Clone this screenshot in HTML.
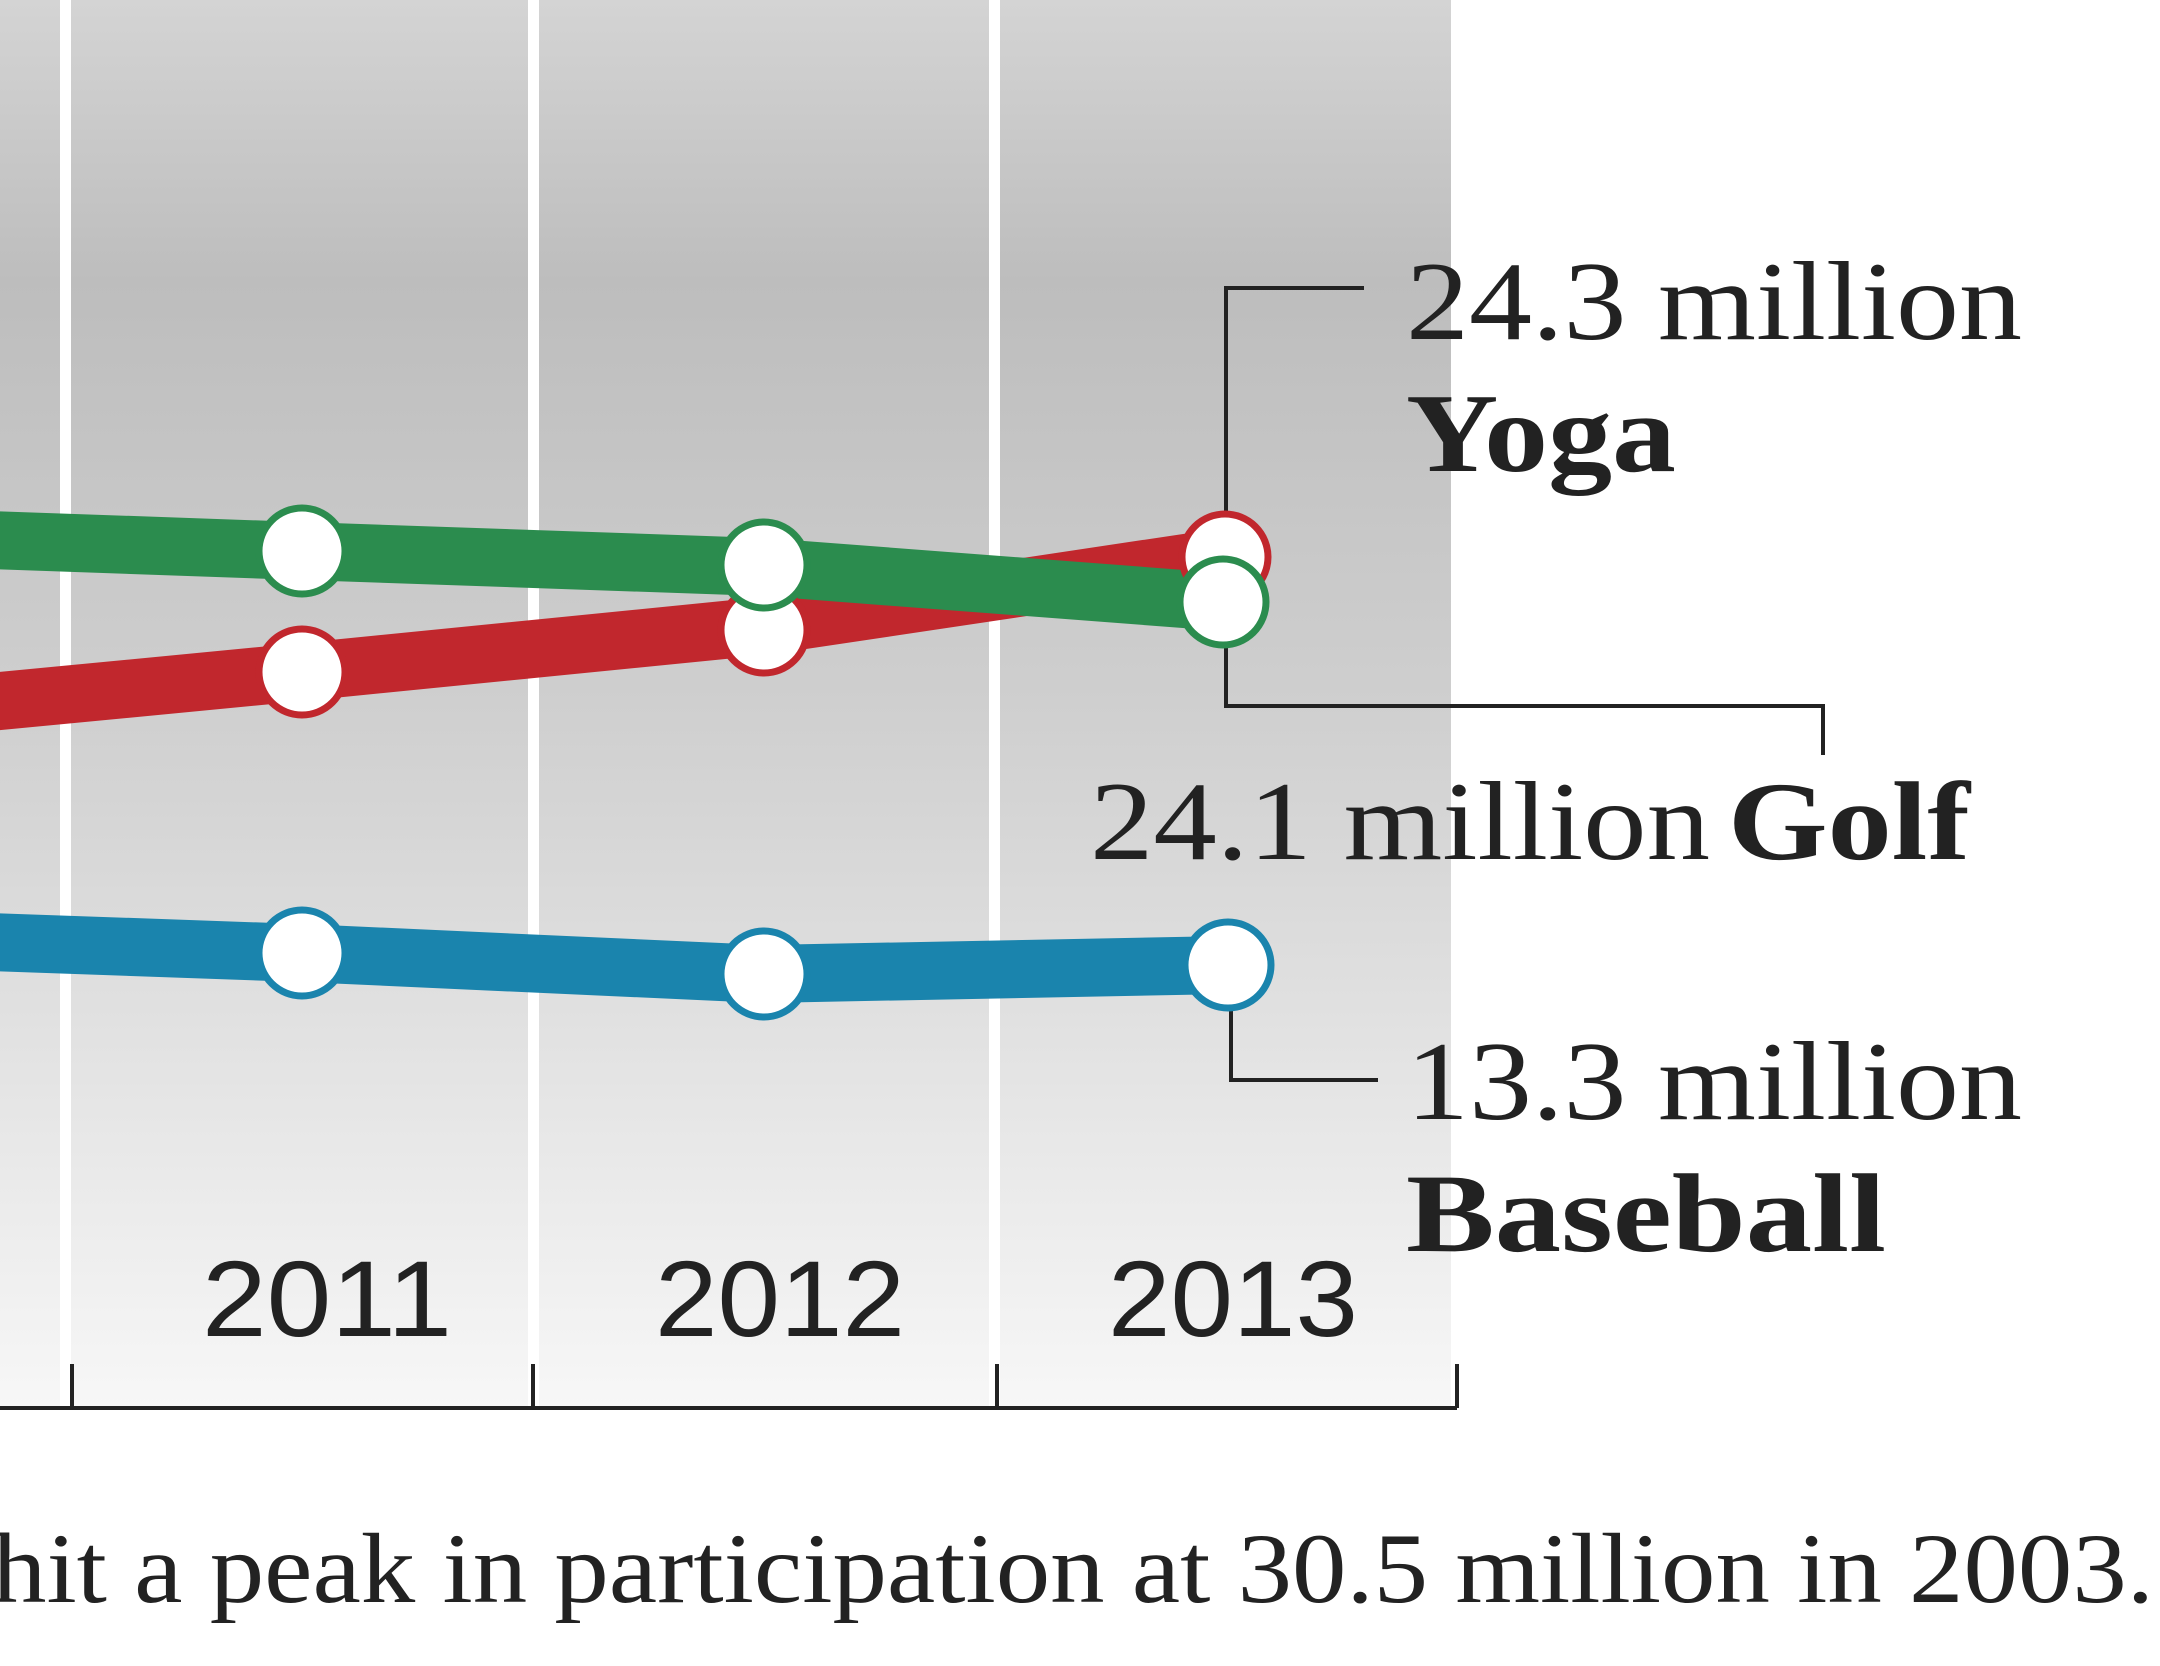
<!DOCTYPE html>
<html><head><meta charset="utf-8"><style>html,body{margin:0;padding:0;background:#fff}svg{display:block}</style></head><body>
<svg width="2160" height="1666" viewBox="0 0 2160 1666" xmlns="http://www.w3.org/2000/svg">
<defs><linearGradient id="bg" x1="0" y1="0" x2="0" y2="1">
<stop offset="0" stop-color="#d4d4d4"/><stop offset="0.2" stop-color="#bdbdbd"/><stop offset="0.5" stop-color="#cfcfcf"/><stop offset="1" stop-color="#f7f7f7"/></linearGradient></defs>
<rect x="0" y="0" width="1451" height="1408" fill="url(#bg)"/>
<g fill="#fff"><rect x="60" y="0" width="11" height="1408"/><rect x="528" y="0" width="11" height="1408"/><rect x="989" y="0" width="11" height="1408"/></g>
<g stroke="#222" stroke-width="4" fill="none">
<path d="M0 1408 H1457 M72 1364 V1408 M533 1364 V1408 M997 1364 V1408 M1457 1364 V1408"/>
<path d="M1226 556 V288 H1364" stroke-width="4"/>
<path d="M1226 603 V706 H1823 V755"/>
<path d="M1231 965 V1080 H1378"/>
</g>
<g font-family="Liberation Serif, serif" fill="#222" font-size="112">
<text x="202" y="1336" textLength="250" lengthAdjust="spacingAndGlyphs" font-family="Liberation Sans, sans-serif" font-size="108">2011</text>
<text x="655" y="1336" textLength="250" lengthAdjust="spacingAndGlyphs" font-family="Liberation Sans, sans-serif" font-size="108">2012</text>
<text x="1108" y="1336" textLength="250" lengthAdjust="spacingAndGlyphs" font-family="Liberation Sans, sans-serif" font-size="108">2013</text>
<text x="1406" y="339" textLength="616" lengthAdjust="spacingAndGlyphs">24.3 million</text>
<text x="1406" y="471" textLength="270" lengthAdjust="spacingAndGlyphs" font-weight="bold">Yoga</text>
<text x="1090" y="859" textLength="620" lengthAdjust="spacingAndGlyphs">24.1 million</text>
<text x="1728" y="859" textLength="242" lengthAdjust="spacingAndGlyphs" font-weight="bold">Golf</text>
<text x="1406" y="1119" textLength="616" lengthAdjust="spacingAndGlyphs">13.3 million</text>
<text x="1406" y="1251" textLength="480" lengthAdjust="spacingAndGlyphs" font-weight="bold">Baseball</text>
<text x="-8" y="1602" textLength="2162" lengthAdjust="spacingAndGlyphs" font-size="100">hit a peak in participation at 30.5 million in 2003.</text>
</g>
<g fill="none" stroke-width="58" stroke-linejoin="round">
<polyline points="-10,942 302,953 764,974 1228,965" stroke="#1a84ad"/>
<polyline points="-10,702 302,672 764,626 1225,557" stroke="#c1272d"/>
<polyline points="-10,540 302,551 764,567 1223,602" stroke="#2b8c4e"/>
</g>
<g fill="#fff" stroke-width="7">
<circle cx="302" cy="953" r="43" stroke="#1a84ad"/><circle cx="764" cy="974" r="43" stroke="#1a84ad"/><circle cx="1228" cy="965" r="43" stroke="#1a84ad"/>
<circle cx="302" cy="672" r="43" stroke="#c1272d"/><circle cx="764" cy="630" r="43" stroke="#c1272d"/><circle cx="1225" cy="557" r="43" stroke="#c1272d"/>
<circle cx="302" cy="551" r="43" stroke="#2b8c4e"/><circle cx="764" cy="565" r="43" stroke="#2b8c4e"/><circle cx="1223" cy="602" r="43" stroke="#2b8c4e"/>
</g>
</svg>
</body></html>
